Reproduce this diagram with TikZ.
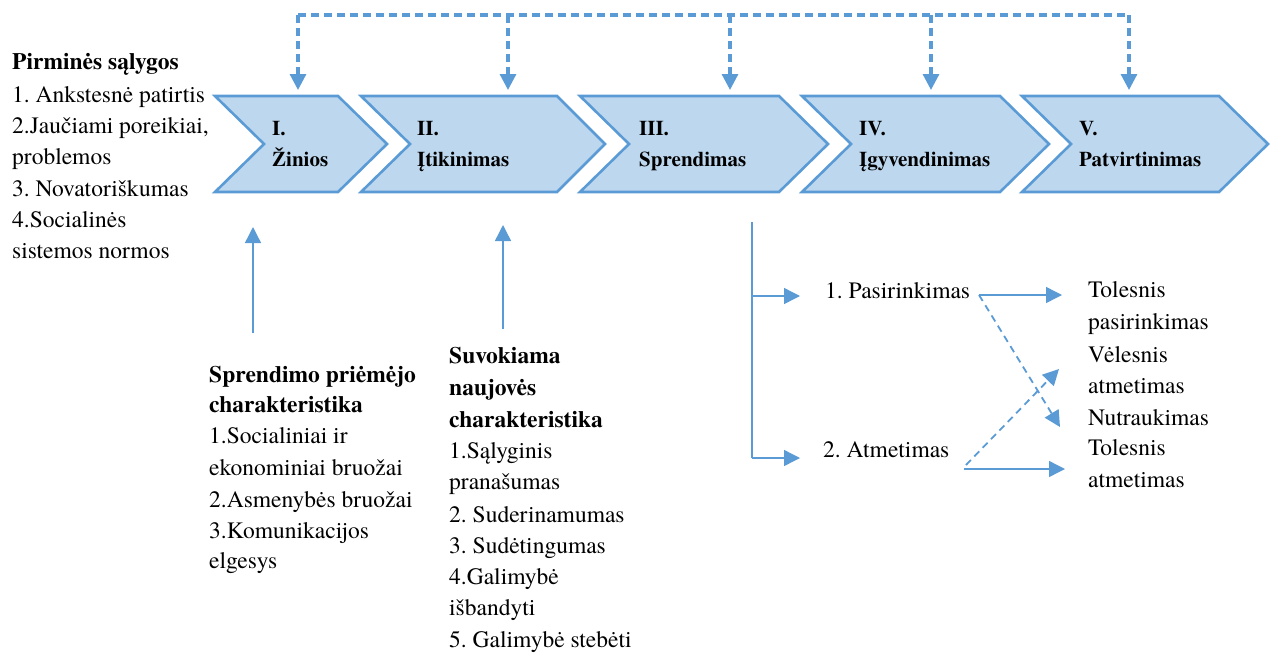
\documentclass[tikz,border=0pt]{standalone}
\usepackage{fontspec}
\setmainfont{texgyretermes}[Extension=.otf, UprightFont=*-regular, BoldFont=*-bold, ItalicFont=*-italic, BoldItalicFont=*-bolditalic]
\usetikzlibrary{arrows.meta}
\definecolor{chevfill}{HTML}{BDD7EE}
\definecolor{chevline}{HTML}{5B9BD5}
\frenchspacing
\begin{document}
\begin{tikzpicture}[x=1pt,y=-1pt,
  chev/.style={draw=chevline, fill=chevfill, line width=2.6pt, line join=miter},
  ctext/.style={anchor=base west, inner sep=0pt, font=\fontsize{21}{25}\selectfont\bfseries},
  txt/.style={anchor=base west, inner sep=0pt, font=\fontsize{23.5}{28}\selectfont},
  btxt/.style={anchor=base west, inner sep=0pt, font=\fontsize{23.5}{28}\selectfont\bfseries},
  tip/.style={-{Triangle[length=16pt,width=16pt]}},
  dashln/.style={draw=chevline, line width=3.2pt, dash pattern=on 8pt off 5pt},
  dasharr/.style={dashln, tip},
  thinln/.style={draw=chevline, line width=1.4pt},
  arr/.style={thinln, tip},
  tdash/.style={draw=chevline, line width=1.8pt, dash pattern=on 7pt off 5pt, tip},
]
\useasboundingbox (0,0) rectangle (1277,653);

% chevrons
\draw[chev] (215,96) -- (338,96) -- (387,144) -- (338,192) -- (215,192) -- (264,144) -- cycle;
\draw[chev] (361,96) -- (557,96) -- (605,144) -- (557,192) -- (361,192) -- (410,144) -- cycle;
\draw[chev] (580,96) -- (779,96) -- (828,144) -- (779,192) -- (580,192) -- (629,144) -- cycle;
\draw[chev] (802,96) -- (1000,96) -- (1049,144) -- (1000,192) -- (802,192) -- (851,144) -- cycle;
\draw[chev] (1022,96) -- (1219,96) -- (1268,144) -- (1219,192) -- (1022,192) -- (1071,144) -- cycle;

\node[ctext] (c1a) at (272,135) {I.};
\node[ctext] (c1b) at (272,166) {Žinios};
\node[ctext] (c2a) at (417,135) {II.};
\node[ctext] (c2b) at (417,166) {Įtikinimas};
\node[ctext] (c3a) at (639,135) {III.};
\node[ctext] (c3b) at (639,166) {Sprendimas};
\node[ctext] (c4a) at (859,135) {IV.};
\node[ctext] (c4b) at (859,166) {Įgyvendinimas};
\node[ctext] (c5a) at (1079,135) {V.};
\node[ctext] (c5b) at (1079,166) {Patvirtinimas};

% top dashed feedback line
\coordinate (d1) at (298,15);
\coordinate (d2) at (508,15);
\coordinate (d3) at (730,15);
\coordinate (d4) at (931,15);
\coordinate (d5) at (1129,15);
\coordinate (e1) at (298,90);
\coordinate (e2) at (508,90);
\coordinate (e3) at (730,90);
\coordinate (e4) at (931,90);
\coordinate (e5) at (1129,90);
\draw[dashln] (d1) -- (d5);
\foreach \i in {1,...,5} \draw[dasharr] (d\i) -- (e\i);

% left column
\node[btxt] (p0) at (12,69) {Pirminės sąlygos};
\node[txt] (p1) at (12,102) {1. Ankstesnė patirtis};
\node[txt] (p2) at (12,133) {2.Jaučiami poreikiai,};
\node[txt] (p3) at (12,164) {problemos};
\node[txt] (p4) at (12,196) {3. Novatoriškumas};
\node[txt] (p5) at (12,227) {4.Socialinės};
\node[txt] (p6) at (12,258) {sistemos normos};

% up arrows
\coordinate (u1s) at (253,333);
\coordinate (u1e) at (253,227);
\coordinate (u2s) at (503,329);
\coordinate (u2e) at (503,225);
\draw[arr] (u1s) -- (u1e);
\draw[arr] (u2s) -- (u2e);

% Sprendimo priemejo charakteristika
\node[btxt] (s0) at (209,382) {Sprendimo priėmėjo};
\node[btxt] (s1) at (209,412) {charakteristika};
\node[txt] (s2) at (209,443) {1.Socialiniai ir};
\node[txt] (s3) at (209,475) {ekonominiai bruožai};
\node[txt] (s4) at (209,507) {2.Asmenybės bruožai};
\node[txt] (s5) at (209,538) {3.Komunikacijos};
\node[txt] (s6) at (209,568) {elgesys};

% Suvokiama naujoves charakteristika
\node[btxt] (n0) at (449,363) {Suvokiama};
\node[btxt] (n1) at (449,395) {naujovės};
\node[btxt] (n2) at (449,427) {charakteristika};
\node[txt] (n3) at (449,458) {1.Sąlyginis};
\node[txt] (n4) at (449,489) {pranašumas};
\node[txt] (n5) at (449,522) {2. Suderinamumas};
\node[txt] (n6) at (449,553) {3. Sudėtingumas};
\node[txt] (n7) at (449,584) {4.Galimybė};
\node[txt] (n8) at (449,615) {išbandyti};
\node[txt] (n9) at (449,647) {5. Galimybė stebėti};

% decision branches
\coordinate (b0) at (752,222);
\coordinate (b1) at (752,296);
\coordinate (b2) at (752,458);
\coordinate (b1e) at (800,296);
\coordinate (b2e) at (800,458);
\draw[thinln] (b0) -- (b2);
\draw[arr] (b1) -- (b1e);
\draw[arr] (b2) -- (b2e);

\node[txt] (o1) at (825,298) {1. Pasirinkimas};
\node[txt] (o2) at (823,457) {2. Atmetimas};

\node[txt] (r1) at (1088,297) {Tolesnis};
\node[txt] (r2) at (1088,329) {pasirinkimas};
\node[txt] (r3) at (1088,362) {Vėlesnis};
\node[txt] (r4) at (1088,393) {atmetimas};
\node[txt] (r5) at (1088,425) {Nutraukimas};
\node[txt] (r6) at (1088,455) {Tolesnis};
\node[txt] (r7) at (1088,487) {atmetimas};

\coordinate (a1) at (979,295);
\coordinate (a1e) at (1062,295);
\coordinate (a1d) at (1060,427);
\coordinate (a2) at (964,469);
\coordinate (a2e) at (1065,469);
\coordinate (a2s) at (966,465);
\coordinate (a2d) at (1059,369);
\draw[arr] (a1) -- (a1e);
\draw[tdash] (a1) -- (a1d);
\draw[arr] (a2) -- (a2e);
\draw[tdash] (a2s) -- (a2d);
\end{tikzpicture}
\end{document}
